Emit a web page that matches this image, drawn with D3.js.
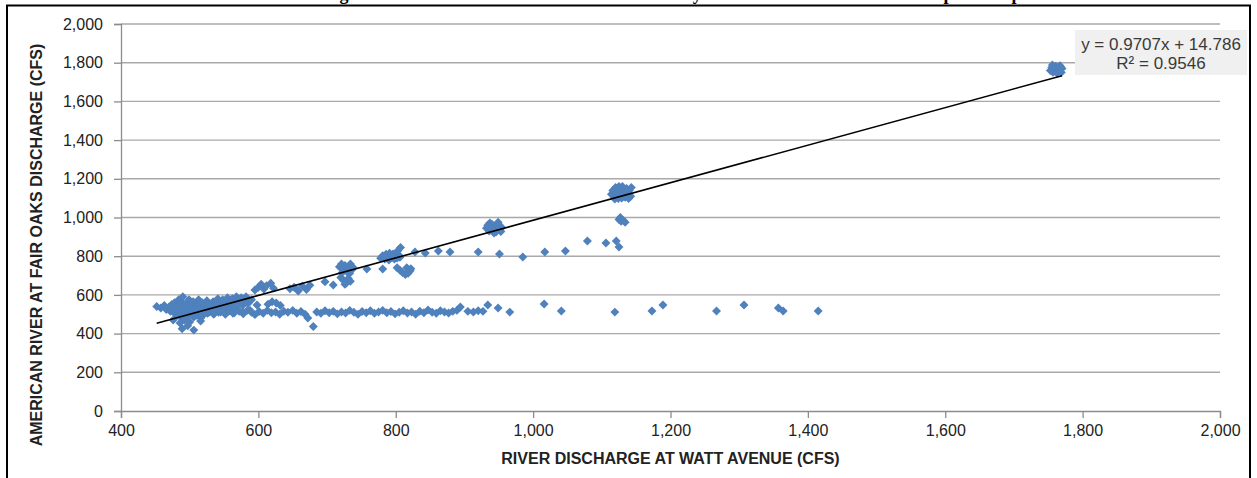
<!DOCTYPE html>
<html><head><meta charset="utf-8">
<script src="https://cdn.jsdelivr.net/npm/d3@7"></script>
<style>body{margin:0;background:#fff}text{font-family:"Liberation Sans",Arial,sans-serif}</style>
</head><body>
<svg id="chart" width="1257" height="478"></svg>
<script>
// ---- data (Watt Avenue discharge, Fair Oaks discharge) ----
const xTicks = [400, 600, 800, 1000, 1200, 1400, 1600, 1800, 2000];
const yTicks = [0, 200, 400, 600, 800, 1000, 1200, 1400, 1600, 1800, 2000];
const slope = 0.9707, intercept = 14.786, rSquared = 0.9546;
const titleText = "Figure 3. Fair Oaks and Watt Avenue Flow Study \u2013 Statistical Linear Relationship of Sample Data";
const xLabel = "RIVER DISCHARGE AT WATT AVENUE (CFS)";
const yLabel = "AMERICAN RIVER AT FAIR OAKS DISCHARGE (CFS)";

const blob = [[452,540],[458,532],[463,545],[466,525],[470,538],[472,515],[474,550],[476,528],[478,505],[478,560],[480,540],[482,495],[482,520],[484,575],[485,548],[486,510],[488,530],[488,480],[490,560],[490,590],[491,500],[492,545],[493,470],[494,520],[495,535],[496,555],[497,490],[498,510],[499,575],[500,530],[500,460],[502,545],[503,500],[504,520],[505,565],[506,485],[507,538],[508,510],[510,550],[510,495],[512,525],[513,575],[514,505],[515,540],[516,480],[518,560],[518,515],[520,530],[521,500],[522,548],[524,520],[525,570],[526,505],[528,540],[529,555],[530,515],[532,530],[534,565],[535,500],[536,545],[538,520],[540,555],[541,580],[542,510],[544,535],[545,565],[547,520],[548,575],[550,545],[551,505],[552,560],[554,530],[555,585],[556,515],[558,570],[559,550],[560,525],[562,580],[563,505],[565,560],[566,540],[568,590],[570,575],[571,520],[573,560],[575,585],[577,545],[578,510],[580,570],[582,590],[585,555],[588,520],[590,575],[489,425],[506,418],[497,440],[486,455],[516,465],[476,470]];
const upperArm = [[595,625],[600,640],[604,655],[608,630],[612,648],[618,660],[622,635],[598,548],[614,552],[620,565],[626,558],[632,545],[646,632],[652,640],[658,620],[664,645],[670,628],[675,650],[697,668],[709,651]];
const c720 = [[718,745],[721,760],[724,735],[726,752],[729,720],[731,745],[734,760],[736,730],[722,715],[733,712],[738,742],[720,690],[724,675],[728,662],[731,685],[734,670],[726,655],[758,734],[781,734]];
const c800 = [[778,790],[781,802],[784,785],[786,810],[788,795],[790,780],[792,805],[794,792],[796,812],[798,785],[800,800],[802,790],[804,808],[806,795],[783,797],[791,815],[797,798],[807,845],[803,828],[802,740],[806,728],[810,715],[814,705],[818,712],[821,725],[816,740],[822,735]];
const sparseUpper = [[828,822],[843,816],[862,827],[879,822],[920,822],[951,811],[985,796],[1017,822],[1047,827],[1079,879],[1106,868],[1121,879],[1125,848]];
const c940 = [[932,945],[934,960],[936,930],[938,950],[940,965],[942,940],[944,955],[946,925],[948,945],[950,962],[952,935],[954,950],[937,972],[943,920],[949,975],[953,928],[935,952]];
const c1130 = [[1114,1120],[1116,1140],[1118,1105],[1120,1155],[1122,1130],[1124,1098],[1126,1145],[1128,1118],[1130,1160],[1132,1135],[1134,1105],[1136,1150],[1138,1125],[1140,1140],[1142,1110],[1143,1155],[1119,1095],[1129,1100],[1139,1098],[1125,1160],[1125,990],[1128,980],[1131,985],[1134,975],[1127,1000]];
const c1760 = [[1753,1760],[1755,1775],[1757,1750],[1759,1768],[1761,1782],[1762,1755],[1764,1772],[1766,1760],[1767,1785],[1769,1750],[1770,1770],[1756,1788],[1763,1745],[1768,1778]];
const lowBand = [[528,510],[536,505],[545,512],[552,500],[558,518],[565,508],[572,515],[578,502],[584,520],[590,510],[595,498],[601,514],[607,505],[613,520],[619,508],[625,512],[631,500],[637,516],[643,510],[650,520],[656,505],[662,514],[668,500],[672,481],[680,437],[685,512],[691,505],[697,518],[703,508],[709,515],[715,502],[721,512],[727,506],[733,520],[739,510],[745,500],[751,514],[757,508],[763,518],[769,505],[775,512],[781,520],[787,508],[793,514],[799,502],[805,510],[811,518],[817,506],[823,512],[829,500],[835,516],[841,508],[847,522],[853,510],[859,505],[865,518],[871,512],[877,506],[883,515],[889,520],[894,537],[905,515],[913,512],[920,518],[927,515],[934,548],[949,532],[966,511],[1016,553],[1041,517],[1119,511],[1173,517],[1189,548],[1267,517],[1307,548],[1357,532],[1364,517],[1415,517]];

const points = [].concat(blob, upperArm, c720, c800, sparseUpper, c940, c1130, c1760, lowBand);

// ---- layout ----
const svg = d3.select("#chart");
const L = 121, R = 1220, T = 24, B = 411;
const x = d3.scaleLinear().domain([400, 2000]).range([L, R]);
const y = d3.scaleLinear().domain([0, 2000]).range([B, T]);

svg.append("rect").attr("width", 1257).attr("height", 478).attr("fill", "#fff");

// title (cut off at top, as in the source image)
svg.append("text").attr("x", 323.5).attr("y", 0)
  .style("font-family", '"Liberation Serif","Times New Roman",serif')
  .style("font-weight", "bold").style("font-size", "18px").attr("fill", "#000")
  .text(titleText);

// frame
svg.append("rect").attr("x", 7).attr("y", 5.5).attr("width", 1243).attr("height", 490)
  .attr("fill", "none").attr("stroke", "#000").attr("stroke-width", 2);

// gridlines
svg.append("g").selectAll("line").data(yTicks.filter(d => d > 0)).join("line")
  .attr("x1", L).attr("x2", R).attr("y1", d => y(d)).attr("y2", d => y(d))
  .attr("stroke", "#a9a9a9").attr("stroke-width", 1.4);

// axes
const yAxis = svg.append("g").attr("transform", `translate(${L},0)`)
  .call(d3.axisLeft(y).tickValues(yTicks).tickSize(7).tickPadding(11).tickFormat(d3.format(",")));
const xAxis = svg.append("g").attr("transform", `translate(0,${B})`)
  .call(d3.axisBottom(x).tickValues(xTicks).tickSize(7).tickPadding(7).tickFormat(d3.format(",")));
[yAxis, xAxis].forEach(g => {
  g.selectAll("path.domain").attr("stroke", "#8c8c8c").attr("stroke-width", 1.3);
  g.selectAll(".tick line").attr("stroke", "#8c8c8c").attr("stroke-width", 1.3);
  g.selectAll(".tick text").style("font-size", "16px").style("font-family", '"Liberation Sans",Arial,sans-serif').attr("fill", "#222");
});

// points
const diamond = { draw(ctx, size) { const r = Math.sqrt(size / 2); ctx.moveTo(0, -r); ctx.lineTo(r, 0); ctx.lineTo(0, r); ctx.lineTo(-r, 0); ctx.closePath(); } };
svg.append("g").selectAll("path").data(points).join("path")
  .attr("transform", d => `translate(${x(d[0])},${y(d[1])})`)
  .attr("d", d3.symbol().type(diamond).size(40))
  .attr("fill", "#4F81BD");

// trendline
const xExt = d3.extent(points, d => d[0]);
svg.append("line")
  .attr("x1", x(xExt[0])).attr("y1", y(slope * xExt[0] + intercept))
  .attr("x2", x(xExt[1])).attr("y2", y(slope * xExt[1] + intercept))
  .attr("stroke", "#000").attr("stroke-width", 1.6);

// equation box
svg.append("rect").attr("x", 1075).attr("y", 30).attr("width", 172).attr("height", 45).attr("fill", "#f0f0f0");
const eq = svg.append("text").attr("x", 1161).attr("text-anchor", "middle").style("font-size", "17px").attr("fill", "#3a3a3a");
eq.append("tspan").attr("x", 1161).attr("y", 50).text(`y = ${slope}x + ${intercept}`);
eq.append("tspan").attr("x", 1161).attr("y", 69).text(`R\u00B2 = ${rSquared}`);

// axis titles
svg.append("text").attr("x", (L + R) / 2).attr("y", 458).attr("dy", "0.35em").attr("text-anchor", "middle")
  .style("font-weight", "bold").style("font-size", "16px").attr("fill", "#222").text(xLabel);
svg.append("text").attr("transform", "translate(36,245) rotate(-90)").attr("dy", "0.35em").attr("text-anchor", "middle")
  .style("font-weight", "bold").style("font-size", "16px").attr("fill", "#222").text(yLabel);
</script>
</body></html>
